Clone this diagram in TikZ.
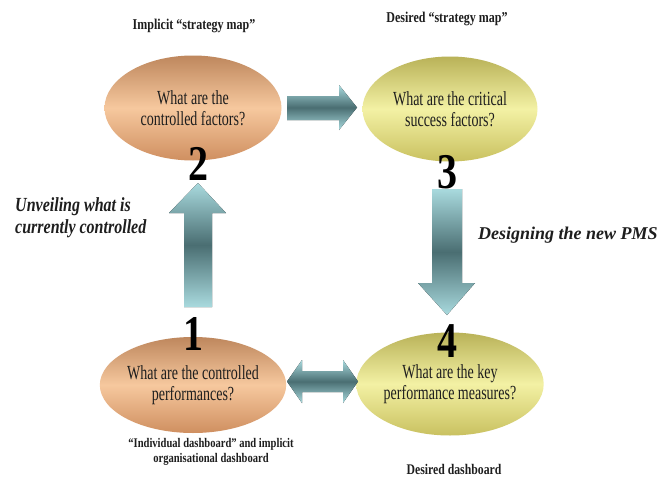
\documentclass[tikz,border=0pt]{standalone}
\usepackage{fontspec}
\setmainfont{Liberation Serif}[FakeStretch=0.8]
\newfontfamily\wideserif{Liberation Serif}
\newfontfamily\narrowserif{Liberation Serif}[FakeStretch=0.7]
\usepackage{tikz}
\usetikzlibrary{positioning}
\usetikzlibrary{shapes}
\usetikzlibrary{calc}
\definecolor{peachtop}{HTML}{BE875D}
\definecolor{peachmid}{HTML}{F6C89E}
\definecolor{peachbot}{HTML}{CF8F60}
\definecolor{lemontop}{HTML}{B9B258}
\definecolor{lemonmid}{HTML}{F3F1A4}
\definecolor{lemonbot}{HTML}{C9C160}
\definecolor{teallight}{HTML}{A9DADE}
\definecolor{tealdark}{HTML}{4A6E72}
\definecolor{ink}{HTML}{1E1E1E}
\tikzstyle{bubble}=[ellipse,inner sep=0pt,align=center,text=ink,font=\fontsize{20}{20.5}\narrowserif]
\tikzstyle{peach}=[bubble,top color=peachtop,bottom color=peachbot,middle color=peachmid]
\tikzstyle{lemon}=[bubble,top color=lemontop,bottom color=lemonbot,middle color=lemonmid]
\tikzstyle{pipe}=[top color=teallight,bottom color=teallight,middle color=tealdark]
\tikzstyle{stepno}=[anchor=base,inner sep=0pt,text=black,font=\fontsize{50}{50}\selectfont\bfseries]
\tikzstyle{caption}=[anchor=base,inner sep=0pt,align=center,text=ink,font=\fontsize{15}{17}\selectfont\bfseries]
\tikzstyle{phase}=[inner sep=0pt,text=ink,font=\fontsize{20}{22}\selectfont\bfseries\itshape]

\begin{document}
\begin{tikzpicture}[x=1pt,y=-1pt]
    \useasboundingbox[fill=white] (0,0) rectangle (662,477);
    % the four questions
    \node[peach,minimum width=177,minimum height=105] (factors) at (193,108) {What are the\\controlled factors?};
    \node[lemon,minimum width=175,minimum height=105] (csf) at (450,109) {What are the critical\\success factors?};
    \node[peach,minimum width=177,minimum height=96] (perf) at (193,385) {What are the controlled\\performances?};
    \node[lemon,minimum width=175,minimum height=103] (kpm) at (450,384) {What are the key\\performance measures?};

    % ends of the block arrows
    \coordinate (r-tail) at (287,107.5);
    \coordinate (r-tip) at (357,107.5);
    \coordinate (u-tail) at (198,307);
    \coordinate (u-tip) at (198,183);
    \coordinate (d-tail) at (447,189);
    \coordinate (d-tip) at (447,315);
    \coordinate (w-tip) at (287,381.5);
    \coordinate (e-tip) at (358,381.5);

    % block arrows
    \fill[pipe] (r-tail) ++(0,-11.5) -- ++(52,0) -- ++(0,-11) -- (r-tip) -- ++(-18,22.5) -- ++(0,-10) -- ++(-52,0) -- cycle;
    \fill[pipe] (u-tail) ++(-14,0) -- ++(0,-94) -- ++(-15,0) -- (u-tip) -- ++(28,30) -- ++(-14,0) -- ++(0,94) -- cycle;
    \fill[pipe] (d-tail) ++(-15,0) -- ++(30,0) -- ++(0,94) -- ++(13,0) -- (d-tip) -- ++(-29,-32) -- ++(14,0) -- cycle;
    \fill[pipe] (w-tip) -- ++(15,-21.5) -- ++(0,11) -- ++(41,0) -- ++(0,-11) -- (e-tip) -- ++(-15,21.5) -- ++(0,-11) -- ++(-41,0) -- ++(0,11) -- cycle;

    % step numbers
    \node[stepno] (n1) at (193,350) {1};
    \node[stepno] (n2) at (198,180) {2};
    \node[stepno] (n3) at (447,188) {3};
    \node[stepno] (n4) at (447,357) {4};

    % captions
    \node[caption] (map-now) at (194,29) {Implicit “strategy map”};
    \node[caption] (map-new) at (447,22) {Desired “strategy map”};
    \node[caption,font=\fontsize{13.2}{15}\selectfont\bfseries] (board-now) at (211,462) {“Individual dashboard” and implicit\\organisational dashboard};
    \node[caption,font=\fontsize{14.7}{17}\selectfont\bfseries] (board-new) at (454,474) {Desired dashboard};

    % the two phases
    \node[phase,anchor=west,align=left] (unveil) at (15,218) {Unveiling what is\\currently controlled};
    \node[phase,anchor=base west,font=\fontsize{18}{20}\wideserif\bfseries\itshape] (design) at (478,239) {Designing the new PMS};
\end{tikzpicture}
\end{document}
